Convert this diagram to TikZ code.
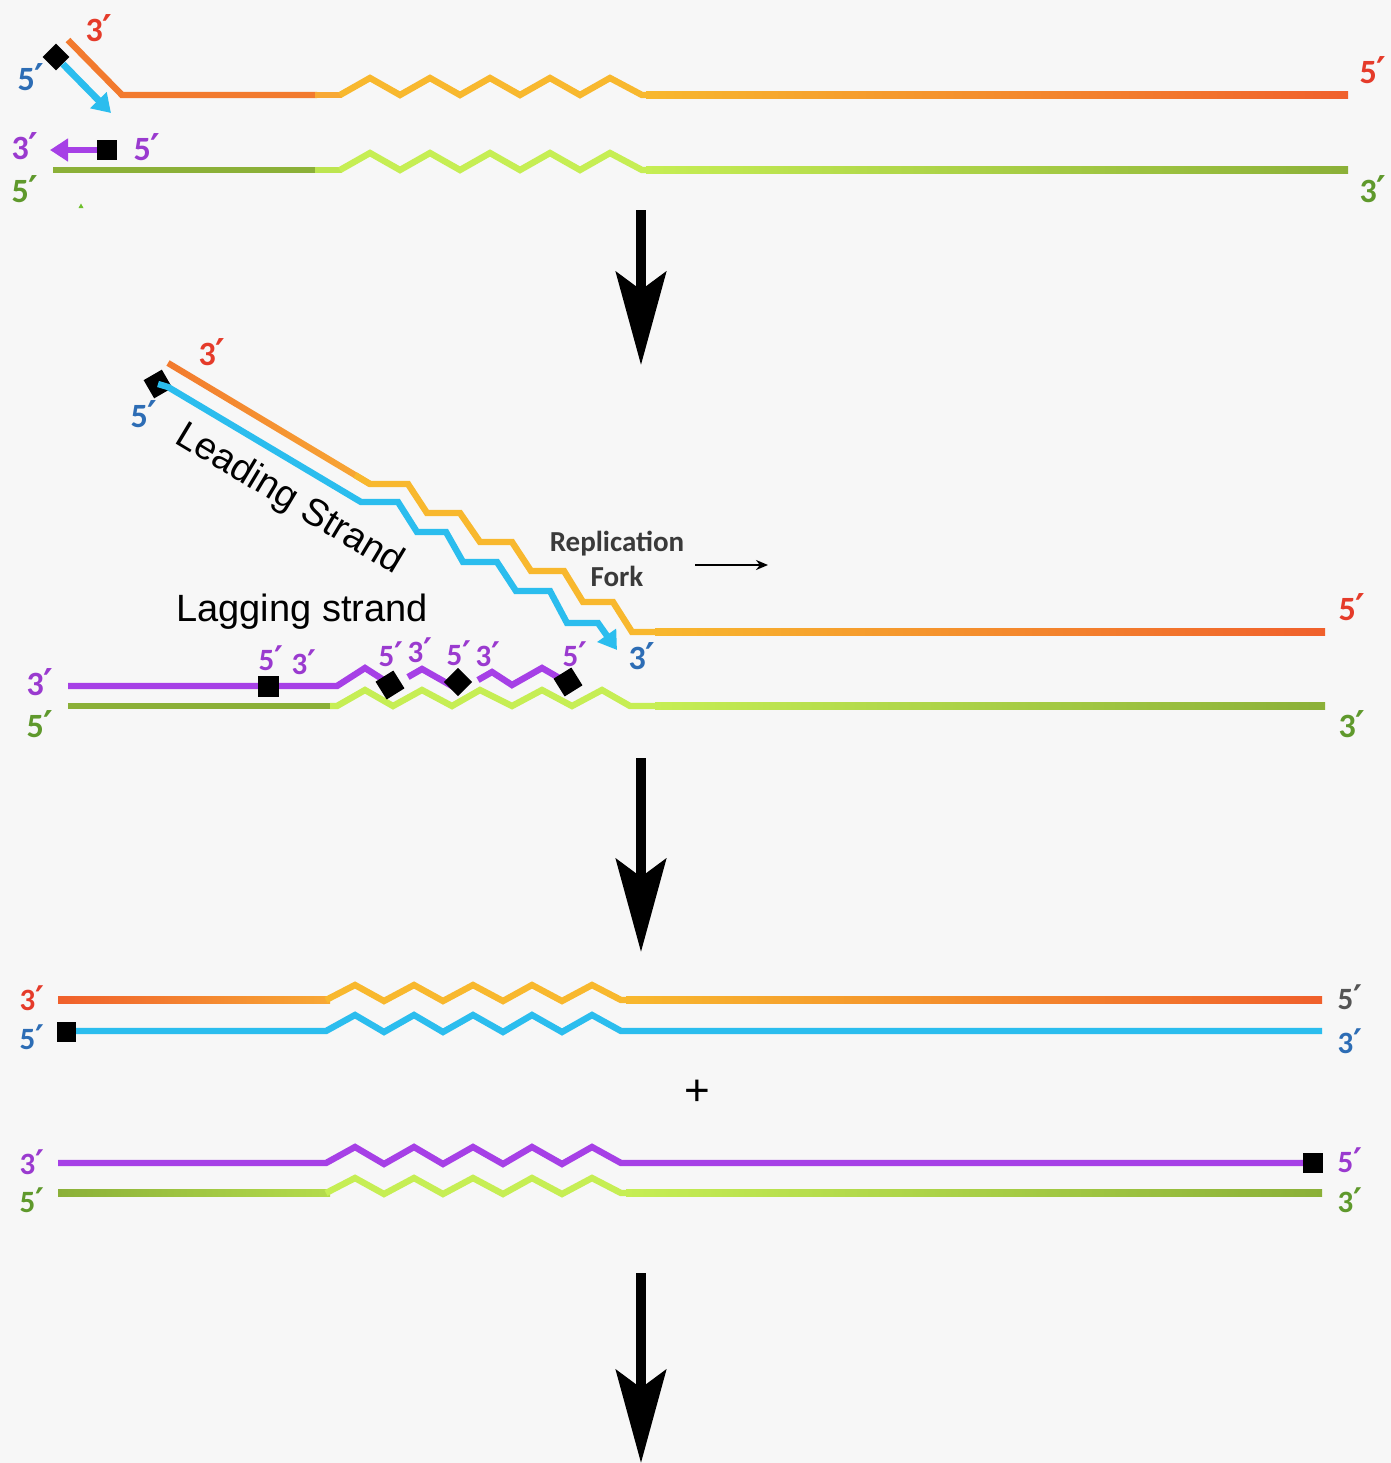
\documentclass[tikz,border=0pt]{standalone}
\usepackage{fontspec}
\newfontfamily\labfont{Carlito}
\newfontfamily\primefont{DejaVu Sans}
\newfontfamily\txtfont{Liberation Sans}
\usetikzlibrary{arrows.meta,calc}

\definecolor{bg}{HTML}{F7F7F7}
\definecolor{orangeR}{HTML}{F0602C}
\definecolor{orangeM}{HTML}{F27A2E}
\definecolor{amberL}{HTML}{F8A935}
\definecolor{amber}{HTML}{F8B82E}
\definecolor{cyanS}{HTML}{2BBDEE}
\definecolor{purpS}{HTML}{A640E6}
\definecolor{oliveS}{HTML}{8BB038}
\definecolor{limeS}{HTML}{C6EE54}
\definecolor{labRed}{HTML}{E53B2A}
\definecolor{labBlue}{HTML}{2D6DB5}
\definecolor{labPurp}{HTML}{9A3ACF}
\definecolor{labGreen}{HTML}{5F992C}
\definecolor{labGrey}{HTML}{555555}
\definecolor{forkText}{HTML}{3A3A3A}

% straight strand piece with a colour gradient along x
\newcommand\gradbar[5]{\shade[left color=#4,right color=#5] (#1,#2-3.2) rectangle (#3,#2+3.2);}
% prime marks for the strand-end labels (large and small labels)
\newcommand\prL{{\primefont\bfseries\fontsize{18.5}{18.5}\selectfont ′}}
\newcommand\prS{{\primefont\bfseries\fontsize{17}{17}\selectfont ′}}

\begin{document}
\begin{tikzpicture}[x=0.5pt,y=-0.5pt,
  strand/.style={line width=3.2pt, line join=miter},
  prime/.style={font=\labfont\bfseries\fontsize{17}{17}\selectfont, inner sep=0pt},
  primesm/.style={font=\labfont\bfseries\fontsize{15.5}{15.5}\selectfont, inner sep=0pt},
  blk/.style={fill=black, draw=none, inner sep=0pt, minimum size=10pt},
  bigarrow/.style={line width=5pt, -{Stealth[length=46.5pt,width=25pt,inset=9pt]}},
  smallhead/.style={-{Triangle[length=9pt,width=11pt]}},
]
\useasboundingbox (0,0) rectangle (1391,1463);
\fill[bg] (0,0) rectangle (1391,1463);

% ================= first stage: primers on the separated template =================
% upper (orange) template
\draw[strand, orangeM] (68,40) -- (122,95) -- (317,95);
\draw[strand, amberL] (315,95) -- (342,95);
\draw[strand, amber] (340,95) -- (370,78) -- (400,95) -- (430,78) -- (460,95) -- (490,78)
  -- (520,95) -- (550,78) -- (580,95) -- (610,78) -- (642,95) -- (650,95);
\gradbar{646}{95}{1348}{amber}{orangeR}
% lower (green) template
\draw[strand, oliveS] (53,170) -- (317,170);
\draw[strand, limeS!85!oliveS] (315,170) -- (342,170);
\draw[strand, limeS] (340,170) -- (370,153) -- (400,170) -- (430,153) -- (460,170) -- (490,153)
  -- (520,170) -- (550,153) -- (580,170) -- (610,153) -- (642,170) -- (650,170);
\gradbar{646}{170}{1348}{limeS}{oliveS}
% primers with growing new strands
\node[blk, rotate=45, minimum size=9.5pt] (p1a) at (56,57) {};
\coordinate (p1atip) at (111,113);
\draw[line width=3.4pt, cyanS, smallhead] (p1a) -- (p1atip);
\node[blk] (p1b) at (107,150) {};
\coordinate (p1btip) at (50,150);
\draw[line width=3.4pt, purpS, smallhead] (p1b) -- (p1btip);
\fill[oliveS!80!green] (78.5,208) -- (83.5,208) -- (81,203.5) -- cycle;
% end labels
\node[prime, text=labRed]   (t1a) at (99,28)   {3\prL};
\node[prime, text=labBlue]  (t1b) at (31,77)   {5\prL};
\node[prime, text=labPurp]  (t1c) at (25,146)  {3\prL};
\node[prime, text=labPurp]  (t1d) at (147,147) {5\prL};
\node[prime, text=labGreen] (t1e) at (25,189)  {5\prL};
\node[prime, text=labRed]   (t1f) at (1373,70) {5\prL};
\node[prime, text=labGreen] (t1g) at (1373,189){3\prL};

\coordinate (a1s) at (641,210);
\coordinate (a1e) at (641,365);
\draw[bigarrow] (a1s) -- (a1e);

% ================= second stage: replication fork =================
% orange template, peeled up
\path[left color=orangeM, right color=amberL]
  (169.6,360.3) -- (371.6,481.3) -- (368.4,486.7) -- (166.4,365.7) -- cycle;
\draw[strand, amber] (355,475) -- (370,484) -- (408,484) -- (427,513) -- (460,513) -- (480,542)
  -- (512,542) -- (531,571) -- (564,571) -- (583,602) -- (613,602) -- (632,632) -- (660,632);
\gradbar{655}{632}{1325}{amber}{orangeR}
% leading strand (blue)
\node[blk, rotate=30, minimum size=10.5pt] (p2a) at (158,384) {};
\coordinate (p2atip) at (617,650);
\draw[strand, cyanS, smallhead] (p2a.center) -- (168,387) -- (361,502) -- (398,502) -- (417,532)
  -- (446,532) -- (463,562) -- (497,562) -- (516,591) -- (550,591) -- (567,623) -- (598,623)
  -- (p2atip);
% green template
\draw[strand, oliveS] (68,706) -- (332,706);
\draw[strand, limeS] (330,706) -- (337,706) -- (365,690) -- (393,706) -- (422,690) -- (452,706)
  -- (480,690) -- (512,706) -- (542,690) -- (572,706) -- (602,690) -- (630,706) -- (660,706);
\gradbar{655}{706}{1325}{limeS}{oliveS}
% lagging strand (purple Okazaki fragments)
\draw[strand, purpS] (68,686) -- (337,686) -- (365,668) -- (390,684);
\draw[strand, purpS] (408,677) -- (422,669) -- (452,686) -- (458,682);
\draw[strand, purpS] (478,680) -- (492,672) -- (512,685) -- (542,668) -- (568,683);
\node[blk, minimum size=10.5pt] (q1) at (268,686) {};
\node[blk, rotate=32, minimum size=10.5pt] (q2) at (390,685) {};
\node[blk, rotate=45, minimum size=10pt]   (q3) at (458,682) {};
\node[blk, rotate=32, minimum size=10.5pt] (q4) at (568,682) {};
% labels
\node[prime, text=labRed]   (t2a) at (212,352)  {3\prL};
\node[prime, text=labBlue]  (t2b) at (144,414)  {5\prL};
\node[prime, text=labBlue]  (t2c) at (642,656)  {3\prL};
\node[prime, text=labRed]   (t2d) at (1352,607) {5\prL};
\node[prime, text=labGreen] (t2e) at (1352,724) {3\prL};
\node[prime, text=labPurp]  (t2f) at (40,682)   {3\prL};
\node[prime, text=labGreen] (t2g) at (40,724)   {5\prL};
\node[primesm, text=labPurp] (t2h) at (271,658) {5\prS};
\node[primesm, text=labPurp] (t2i) at (304,662) {3\prS};
\node[primesm, text=labPurp] (t2j) at (391,654) {5\prS};
\node[primesm, text=labPurp] (t2k) at (420,650) {3\prS};
\node[primesm, text=labPurp] (t2l) at (459,653) {5\prS};
\node[primesm, text=labPurp] (t2m) at (488,654) {3\prS};
\node[primesm, text=labPurp] (t2n) at (575,654) {5\prS};
\node[font=\txtfont\fontsize{19}{19}\selectfont, rotate=-31, inner sep=0pt] (lead) at (289,500) {Leading Strand};
\node[font=\txtfont\fontsize{19}{19}\selectfont, inner sep=0pt] (lag) at (302,612) {Lagging strand};
\node[font=\labfont\bfseries\fontsize{14.5}{17.5}\selectfont, text=forkText, align=center, inner sep=0pt]
  (fork) at (617,559) {Replication\\Fork};
\coordinate (fa1) at (695,565);
\coordinate (fa2) at (768,565);
\draw[line width=1.2pt, -{Stealth[length=6pt,width=5pt]}] (fa1) -- (fa2);

\coordinate (a2s) at (641,758);
\coordinate (a2e) at (641,952);
\draw[bigarrow] (a2s) -- (a2e);

% ================= third stage: two daughter duplexes =================
% orange / blue duplex
\gradbar{58}{1000}{330}{orangeR}{amberL}
\draw[strand, amber] (326,1000) -- (355,985) -- (384,1001) -- (414,985) -- (443,1001) -- (473,985)
  -- (503,1001) -- (532,985) -- (562,1001) -- (592,985) -- (621,1000) -- (630,1000);
\gradbar{626}{1000}{1322}{amber}{orangeR}
\draw[strand, cyanS] (66,1031) -- (326,1031) -- (355,1015) -- (384,1032) -- (414,1015) -- (443,1032)
  -- (473,1015) -- (503,1032) -- (532,1015) -- (562,1032) -- (592,1015) -- (621,1031) -- (1322,1031);
\node[blk, minimum width=9.5pt, minimum height=10pt] (r1) at (66,1032) {};
% purple / green duplex
\draw[strand, purpS] (58,1163) -- (326,1163) -- (355,1147) -- (384,1164) -- (414,1147) -- (443,1164)
  -- (473,1147) -- (503,1164) -- (532,1147) -- (562,1164) -- (592,1147) -- (621,1163) -- (1322,1163);
\node[blk] (r2) at (1313,1163) {};
\gradbar{58}{1193}{330}{oliveS}{limeS!70!oliveS}
\draw[strand, limeS] (326,1193) -- (355,1178) -- (384,1194) -- (414,1178) -- (443,1194) -- (473,1178)
  -- (503,1194) -- (532,1178) -- (562,1194) -- (592,1178) -- (621,1193) -- (630,1193);
\gradbar{626}{1193}{1322}{limeS}{oliveS}
% labels
\node[primesm, text=labRed]   (t3a) at (32,998)    {3\prS};
\node[primesm, text=labBlue]  (t3b) at (32,1037)   {5\prS};
\node[primesm, text=labPurp]  (t3c) at (32,1162)   {3\prS};
\node[primesm, text=labGreen] (t3d) at (32,1200)   {5\prS};
\node[primesm, text=labGrey]  (t3e) at (1350,997)  {5\prS};
\node[primesm, text=labBlue]  (t3f) at (1350,1041) {3\prS};
\node[primesm, text=labPurp]  (t3g) at (1350,1160) {5\prS};
\node[primesm, text=labGreen] (t3h) at (1350,1200) {3\prS};
\node[font=\txtfont\fontsize{22}{22}\selectfont, inner sep=0pt] (plus) at (697,1093) {+};

\coordinate (a3s) at (641,1273);
\coordinate (a3e) at (641,1463);
\draw[bigarrow] (a3s) -- (a3e);
\end{tikzpicture}
\end{document}
